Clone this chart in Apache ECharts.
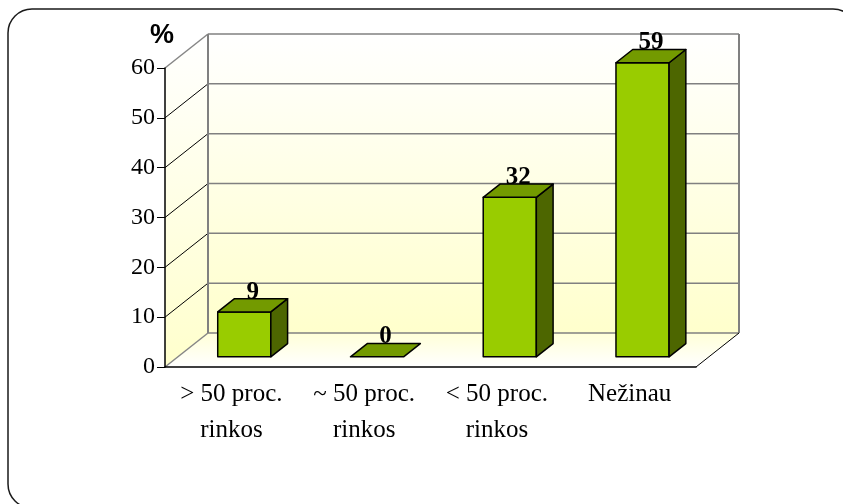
<!DOCTYPE html>
<html>
<head>
<meta charset="utf-8">
<script src="https://cdn.jsdelivr.net/npm/echarts@6/dist/echarts.min.js"></script>
<style>
  html, body { margin: 0; padding: 0; background: #ffffff; }
  #chart { width: 843px; height: 504px; }
</style>
</head>
<body>
<div id="chart"></div>
<script>
// Answer categories and shares (%)
const categories = ['> 50 proc.\nrinkos', '~ 50 proc.\nrinkos', '< 50 proc.\nrinkos', 'Nežinau'];
const shares = [9, 0, 32, 59];
const yTicks = { min: 0, max: 60, interval: 10 };

// Pseudo-3D depth of the plot box, in pixels
const DEPTH = { x: 43, y: -34 };
const BAR_FRONT = 0.30;   // bar front face position within the depth
const BAR_BACK = 0.69;    // bar back face position within the depth
const BAR_WIDTH = 0.40;   // fraction of a category band

const chart = echarts.init(document.getElementById('chart'), null, { renderer: 'canvas' });

function wallsRender(params, api) {
  const cs = params.coordSys;
  const x0 = cs.x, x1 = cs.x + cs.width;
  const yBase = api.coord([0, yTicks.min])[1];
  const yTop = api.coord([0, yTicks.max])[1];
  const dx = DEPTH.x, dy = DEPTH.y;
  const children = [];
  const wallFill = function () {
    return new echarts.graphic.LinearGradient(0, 0, 0, 1, [
      { offset: 0, color: '#ffffff' },
      { offset: 1, color: '#ffffcc' }
    ]);
  };
  const floorFill = new echarts.graphic.LinearGradient(0, 0, 0, 1, [
    { offset: 0, color: '#ffffd8' },
    { offset: 1, color: '#ffffff' }
  ]);
  // back wall
  children.push({ type: 'polygon', shape: { points: [[x0 + dx, yTop + dy], [x1 + dx, yTop + dy], [x1 + dx, yBase + dy], [x0 + dx, yBase + dy]] },
    style: { fill: wallFill(), stroke: null } });
  // left wall
  children.push({ type: 'polygon', shape: { points: [[x0, yTop], [x0 + dx, yTop + dy], [x0 + dx, yBase + dy], [x0, yBase]] },
    style: { fill: wallFill(), stroke: null } });
  // floor
  children.push({ type: 'polygon', shape: { points: [[x0, yBase], [x1, yBase], [x1 + dx, yBase + dy], [x0 + dx, yBase + dy]] },
    style: { fill: floorFill, stroke: null } });

  // grid lines on the back wall and matching diagonals on the left wall
  for (let v = yTicks.min; v <= yTicks.max; v += yTicks.interval) {
    const y = api.coord([0, v])[1];
    children.push({ type: 'line', shape: { x1: x0 + dx, y1: y + dy, x2: x1 + dx, y2: y + dy },
      style: { stroke: '#808080', lineWidth: 1.5 } });
    const edge = (v === yTicks.min || v === yTicks.max);
    children.push({ type: 'line', shape: { x1: x0, y1: y, x2: x0 + dx, y2: y + dy },
      style: { stroke: edge ? '#868686' : '#000000', lineWidth: edge ? 1.5 : 1 } });
  }
  // back wall vertical edges
  children.push({ type: 'line', shape: { x1: x0 + dx, y1: yTop + dy, x2: x0 + dx, y2: yBase + dy },
    style: { stroke: '#808080', lineWidth: 2 } });
  children.push({ type: 'line', shape: { x1: x1 + dx, y1: yTop + dy, x2: x1 + dx, y2: yBase + dy },
    style: { stroke: '#808080', lineWidth: 2 } });
  // floor right edge
  children.push({ type: 'line', shape: { x1: x1, y1: yBase, x2: x1 + dx, y2: yBase + dy },
    style: { stroke: '#000000', lineWidth: 1 } });
  return { type: 'group', children: children };
}

function barRender(params, api) {
  const idx = api.value(0);
  const val = api.value(1);
  const base = api.coord([idx, 0]);
  const top = api.coord([idx, val]);
  const w = api.size([1, 0])[0] * BAR_WIDTH;
  const xl = base[0] - w / 2 + DEPTH.x * BAR_FRONT;
  const xr = xl + w;
  const yb = base[1] + DEPTH.y * BAR_FRONT;
  const yt = top[1] + DEPTH.y * BAR_FRONT;
  const dx = DEPTH.x * (BAR_BACK - BAR_FRONT);
  const dy = DEPTH.y * (BAR_BACK - BAR_FRONT);
  const line = { stroke: '#000000', lineWidth: 1.5, lineJoin: 'round' };
  const children = [];
  if (yb - yt > 0.5) {
    children.push({ type: 'polygon', shape: { points: [[xl, yt], [xr, yt], [xr, yb], [xl, yb]] },
      style: Object.assign({ fill: '#99cc00' }, line) });
    children.push({ type: 'polygon', shape: { points: [[xr, yt], [xr + dx, yt + dy], [xr + dx, yb + dy], [xr, yb]] },
      style: Object.assign({ fill: '#4d6600' }, line) });
  }
  children.push({ type: 'polygon', shape: { points: [[xl, yt], [xr, yt], [xr + dx, yt + dy], [xl + dx, yt + dy]] },
    style: Object.assign({ fill: '#739a00' }, line) });
  children.push({ type: 'text', style: {
    text: String(val), x: xl + w / 2 + dx / 2, y: yt + dy + 6,
    align: 'center', verticalAlign: 'bottom',
    font: 'bold 25px "Liberation Serif", "Times New Roman", serif', fill: '#000000' } });
  return { type: 'group', children: children };
}

chart.setOption({
  animation: false,
  backgroundColor: '#ffffff',
  title: {
    text: '%', left: 145, top: 17,
    textStyle: { fontFamily: '"Liberation Sans", Arial, sans-serif', fontWeight: 'bold', fontSize: 27, color: '#000000' }
  },
  graphic: [{
    type: 'rect', silent: true, z: 100,
    shape: { x: 8, y: 9, width: 849, height: 499, r: 24 },
    style: { fill: null, stroke: '#1a1a1a', lineWidth: 1.5 }
  }],
  grid: { left: 165, right: 147, top: 68, bottom: 137 },
  xAxis: {
    type: 'category',
    data: categories,
    boundaryGap: true,
    axisLine: { lineStyle: { color: '#000000', width: 1.5 } },
    axisTick: { length: 8, lineStyle: { color: '#000000', width: 1 } },
    axisLabel: {
      interval: 0, margin: 9, color: '#000000',
      fontFamily: '"Liberation Serif", "Times New Roman", serif', fontSize: 25, lineHeight: 36
    },
    splitLine: { show: false }
  },
  yAxis: {
    type: 'value',
    min: yTicks.min, max: yTicks.max, interval: yTicks.interval,
    axisLine: { show: true, lineStyle: { color: '#000000', width: 1.5 } },
    axisTick: { show: true, length: 8, lineStyle: { color: '#000000', width: 1 } },
    axisLabel: {
      margin: 10, color: '#000000',
      fontFamily: '"Liberation Serif", "Times New Roman", serif', fontSize: 24
    },
    splitLine: { show: false }
  },
  series: [
    { type: 'custom', z: -1, silent: true, renderItem: wallsRender, data: [[0, 0]], clip: false },
    { type: 'custom', z: 3, renderItem: barRender, clip: false,
      data: shares.map(function (v, i) { return [i, v]; }) }
  ]
});
</script>
</body>
</html>
